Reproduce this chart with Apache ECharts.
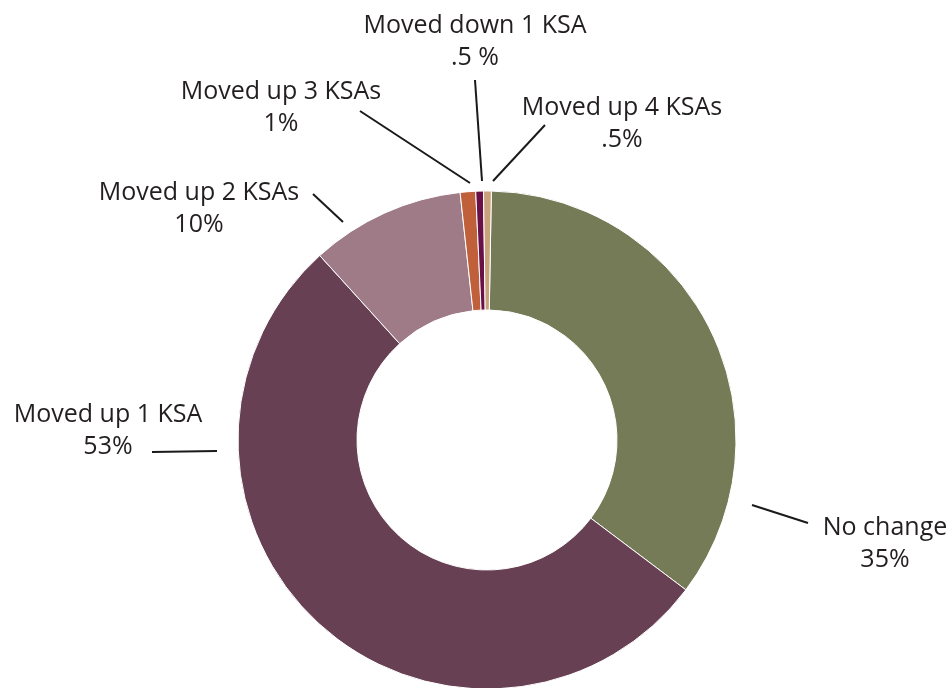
<!DOCTYPE html>
<html>
<head>
<meta charset="utf-8">
<script src="https://cdn.jsdelivr.net/npm/echarts@6/dist/echarts.min.js"></script>
<style>
  html, body { margin: 0; padding: 0; background: #fff; }
  #chart { width: 951px; height: 688px; }
</style>
</head>
<body>
<div id="chart"></div>
<script>
  // categories, clockwise from 12 o'clock
  var categories = ['No change', 'Moved up 1 KSA', 'Moved up 2 KSAs', 'Moved up 3 KSAs', 'Moved down 1 KSA', 'Moved up 4 KSAs'];
  var shares = [35, 53, 10, 1, 0.5, 0.5];
  var shareLabels = ['35%', '53%', '10%', '1%', '.5 %', '.5%'];
  var colors = ['#767b57', '#684053', '#9f7b87', '#c0603a', '#6a1048', '#c9a27c'];

  // label centre and leader line (start near slice -> end near text)
  var labelSpots = [
    { x: 885, y: 544, line: [[752, 505], [808, 523]] },
    { x: 108, y: 431, line: [[217, 451], [152, 452]] },
    { x: 199, y: 209, line: [[343, 222], [313, 194]] },
    { x: 281, y: 108, line: [[470, 183], [360, 111]] },
    { x: 475, y: 42,  line: [[482, 181], [475, 80]] },
    { x: 622, y: 124, line: [[493, 181], [545, 125]] }
  ];

  var myChart = echarts.init(document.getElementById('chart'));

  var pieData = categories.map(function (name, i) {
    return { name: name, value: shares[i], itemStyle: { color: colors[i] } };
  });

  var option = {
    animation: false,
    series: [{
      type: 'pie',
      center: [487, 440],
      radius: [130, 249],
      startAngle: 89,
      clockwise: true,
      data: pieData,
      itemStyle: { borderColor: '#fff', borderWidth: 1 },
      label: {
        show: true,
        position: 'outside',
        formatter: function (p) { return p.name + '\n' + shareLabels[p.dataIndex]; },
        fontFamily: 'Open Sans',
        fontSize: 25,
        lineHeight: 32,
        color: '#231f20',
        align: 'center'
      },
      labelLine: {
        show: true,
        lineStyle: { color: '#1a1a1a', width: 2 }
      },
      labelLayout: function (params) {
        var s = labelSpots[params.dataIndex];
        var a = s.line[0], b = s.line[1];
        return {
          x: s.x,
          y: s.y,
          align: 'center',
          verticalAlign: 'middle',
          labelLinePoints: [a, [(a[0] + b[0]) / 2, (a[1] + b[1]) / 2], b]
        };
      }
    }]
  };

  myChart.setOption(option);
</script>
</body>
</html>
